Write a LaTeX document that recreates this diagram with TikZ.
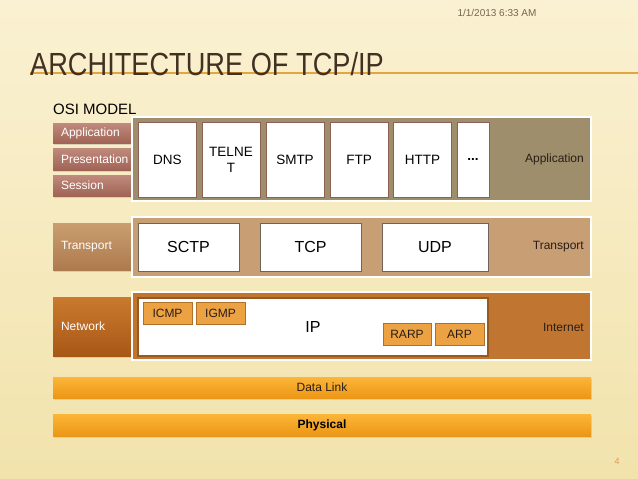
\documentclass[tikz,border=0pt]{standalone}
\usepackage{fontspec}
\setmainfont{Liberation Sans}
\usepackage{graphicx}
\usetikzlibrary{positioning, shadows}

\definecolor{bgtop}{RGB}{250,241,210}
\definecolor{bgbot}{RGB}{242,227,172}
\definecolor{titlecol}{RGB}{66,48,32}
\definecolor{rulecol}{RGB}{226,166,60}
\definecolor{datecol}{RGB}{120,100,80}
\definecolor{appcol}{RGB}{158,142,108}
\definecolor{ositop}{RGB}{192,138,124}
\definecolor{osibot}{RGB}{160,100,86}
\definecolor{trcol}{RGB}{200,158,116}
\definecolor{trtop}{RGB}{202,158,112}
\definecolor{trbot}{RGB}{172,122,78}
\definecolor{netcol}{RGB}{192,118,48}
\definecolor{nettop}{RGB}{202,122,46}
\definecolor{netbot}{RGB}{168,88,22}
\definecolor{bartop}{RGB}{252,182,56}
\definecolor{barbot}{RGB}{236,150,22}
\definecolor{protocol}{RGB}{236,162,66}
\definecolor{protoline}{RGB}{176,112,42}
\definecolor{appline}{RGB}{140,96,86}
\definecolor{trline}{RGB}{112,100,90}
\definecolor{ipline}{RGB}{150,90,32}
\definecolor{labelcol}{RGB}{40,30,22}
\definecolor{pagecol}{RGB}{222,155,85}

\begin{document}
\begin{tikzpicture}[x=1pt, y=-1pt,
    every node/.style={font=\fontsize{12}{14}\selectfont, text=labelcol},
    panel/.style={draw=white, line width=2pt, minimum width=459pt},
    osibox/.style={minimum width=78pt, text width=62pt, inner xsep=8pt, align=left,
        text=white, drop shadow={opacity=0.25, shadow xshift=1pt, shadow yshift=-1.5pt}},
    appbox/.style={draw=appline, fill=white, minimum width=58pt, minimum height=75pt,
        inner sep=1pt, align=center, font=\fontsize{13.5}{16}\selectfont, text=black},
    trbox/.style={draw=trline, fill=white, line width=0.8pt, minimum height=48pt,
        font=\fontsize{16}{18}\selectfont, text=black},
    protobox/.style={draw=protoline, fill=protocol, line width=0.8pt, minimum height=22pt,
        inner sep=1pt, text=labelcol},
    layerlabel/.style={anchor=east, inner sep=0pt},
    bar/.style={top color=bartop, bottom color=barbot, minimum width=538pt, minimum height=21pt,
        drop shadow={opacity=0.2, shadow xshift=1pt, shadow yshift=-1.5pt}}]

    \fill[top color=bgtop, bottom color=bgbot] (0,0) rectangle (638,479);
    \useasboundingbox (0,0) rectangle (638,479);

    \node[font=\fontsize{10}{12}\selectfont, text=datecol] (date) at (497,13) {1/1/2013 6:33 AM};
    \draw[rulecol, line width=1.2pt] (30,73) -- (638,73);
    \node[anchor=base west, inner sep=0pt, text=titlecol, font=\fontsize{32}{36}\selectfont] (title) at (30,75)
        {\scalebox{0.85}[1]{ARCHITECTURE OF TCP/IP}};
    \node[anchor=west, inner sep=0pt, font=\fontsize{15}{18}\selectfont, text=black] (osimodel) at (53,109) {OSI MODEL};

    \node[osibox, top color=ositop, bottom color=osibot, minimum height=20pt] (osiapp) at (92,133) {Application};
    \node[osibox, top color=ositop, bottom color=osibot, minimum height=22pt] (osipres) at (92,159) {Presentation};
    \node[osibox, top color=ositop, bottom color=osibot, minimum height=21pt] (osises) at (92,185.5) {Session};
    \node[osibox, top color=trtop, bottom color=trbot, minimum height=47pt] (ositr) at (92,246.5) {Transport};
    \node[osibox, top color=nettop, bottom color=netbot, minimum height=59pt] (osinet) at (92,326.5) {Network};

    \node[panel, fill=appcol, minimum height=84pt] (apppanel) at (361.5,159) {};
    \node[panel, fill=trcol, minimum height=60pt] (trpanel) at (361.5,247) {};
    \node[panel, fill=netcol, minimum height=68pt] (netpanel) at (361.5,326) {};

    \node[appbox] (dns) at (167.5,159.5) {DNS};
    \node[appbox] (telnet) at (231,159.5) {TELNE\\T};
    \node[appbox] (smtp) at (295,159.5) {SMTP};
    \node[appbox] (ftp) at (359,159.5) {FTP};
    \node[appbox] (http) at (422.5,159.5) {HTTP};
    \node[appbox, minimum width=32pt] (dots) at (473,159.5) {\textbf{...}};
    \node[layerlabel] (applabel) at (584,159) {Application};

    \node[trbox, minimum width=101pt] (sctp) at (188.5,247) {SCTP};
    \node[trbox, minimum width=101pt] (tcp) at (310.5,247) {TCP};
    \node[trbox, minimum width=106pt] (udp) at (435,247) {UDP};
    \node[layerlabel] (trlabel) at (584,247) {Transport};

    \node[draw=ipline, fill=white, line width=2pt, minimum width=350pt, minimum height=58pt,
        font=\fontsize{16}{18}\selectfont, text=black] (ip) at (313,327) {IP};
    \node[protobox, minimum width=49pt] (icmp) at (167.5,313.5) {ICMP};
    \node[protobox, minimum width=49pt] (igmp) at (220.5,313.5) {IGMP};
    \node[protobox, minimum width=48pt] (rarp) at (407,334.5) {RARP};
    \node[protobox, minimum width=49pt] (arp) at (459.5,334.5) {ARP};
    \node[layerlabel] (netlabel) at (584,327) {Internet};

    \node[bar] (datalink) at (322,387.5) {Data Link};
    \node[bar, minimum height=22pt, font=\fontsize{12}{14}\selectfont\bfseries, text=black] (physical) at (322,425) {Physical};

    \node[font=\fontsize{9}{11}\selectfont, text=pagecol] (page) at (617,461) {4};
\end{tikzpicture}
\end{document}
